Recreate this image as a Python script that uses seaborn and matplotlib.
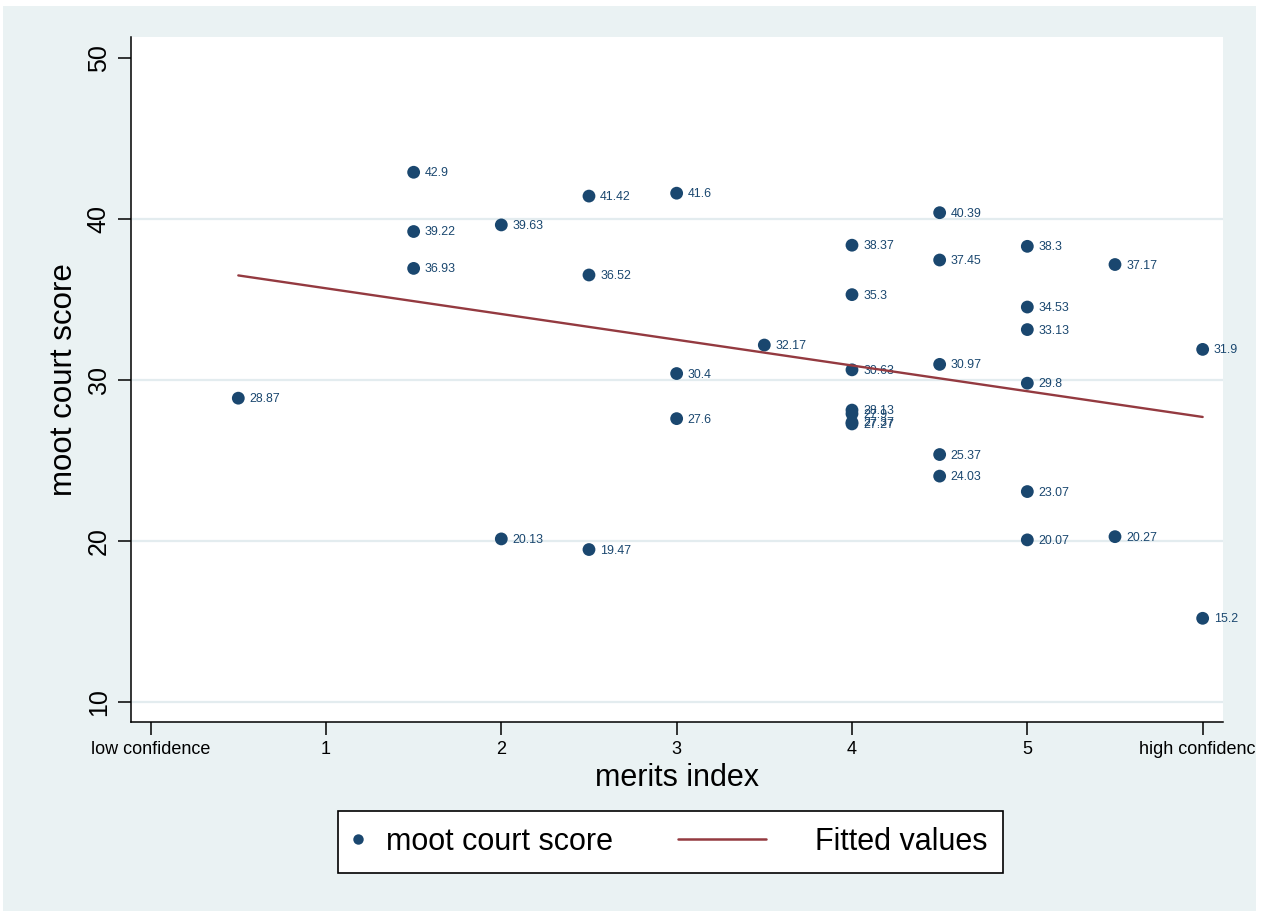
import numpy as np
import pandas as pd
import matplotlib
matplotlib.use("Agg")
import matplotlib.pyplot as plt
import seaborn as sns
from matplotlib.lines import Line2D
from matplotlib.patches import Rectangle
from matplotlib.legend_handler import HandlerLine2D

# ---- data ----
merits = [0.5, 1.5, 1.5, 1.5, 2, 2, 2.5, 2.5, 2.5, 3, 3, 3, 3.5,
          4, 4, 4, 4, 4, 4, 4, 4.5, 4.5, 4.5, 4.5, 4.5,
          5, 5, 5, 5, 5, 5, 5.5, 5.5, 6, 6]
scores = [28.87, 42.9, 39.22, 36.93, 39.63, 20.13, 41.42, 36.52, 19.47,
          41.6, 30.4, 27.6, 32.17,
          38.37, 35.3, 30.63, 28.13, 27.9, 27.37, 27.27,
          40.39, 37.45, 30.97, 25.37, 24.03,
          38.3, 34.53, 33.13, 29.8, 23.07, 20.07,
          37.17, 20.27, 31.9, 15.2]
x_ticks = [0, 1, 2, 3, 4, 5, 6]
x_tick_labels = ["low confidence", "1", "2", "3", "4", "5", "high confidence"]
y_ticks = [10, 20, 30, 40, 50]

NAVY = "#1a476f"
MAROON = "#943a40"
BG = "#eaf2f3"

sns.set_theme(style="white")
plt.rcParams["font.family"] = ["Liberation Sans", "DejaVu Sans"]
plt.rcParams["text.color"] = "black"

df = pd.DataFrame({"merits": merits, "score": scores})

W, H = 1269, 911
fig = plt.figure(figsize=(W / 100, H / 100), dpi=100)
fig.patch.set_facecolor("white")
# light outer background (graph region)
fig.add_artist(Rectangle((3 / W, 0), (1256 - 3) / W, 1 - 6 / H,
                         transform=fig.transFigure, facecolor=BG,
                         edgecolor="none", zorder=-10))

ax = fig.add_axes([131 / W, 1 - 722 / H, (1223 - 131) / W, (722 - 37) / H])
ax.set_facecolor("white")

sns.scatterplot(data=df, x="merits", y="score", s=85, color=NAVY,
                edgecolor="none", linewidth=0, legend=False, ax=ax, zorder=2)
sns.regplot(data=df, x="merits", y="score", scatter=False, ci=None,
            truncate=True, ax=ax,
            line_kws=dict(color=MAROON, lw=1.7, zorder=4))

for xv, yv in zip(merits, scores):
    ax.annotate(f"{yv:g}", (xv, yv), xytext=(8, -0.7), textcoords="offset points",
                va="center", ha="left", fontsize=8.9, color=NAVY,
                annotation_clip=False, zorder=3)

ax.set_xlim(-0.112, 6.116)
ax.set_ylim(8.76, 51.3)
ax.set_xticks(x_ticks)
ax.set_xticklabels(x_tick_labels)
ax.set_yticks(y_ticks)
ax.set_yticklabels([str(v) for v in y_ticks], rotation=90, va="center")

ax.tick_params(axis="x", which="major", bottom=True, length=9.5, width=1.1,
               color="black", labelsize=13, pad=4, labelcolor="black")
ax.tick_params(axis="y", which="major", left=True, length=9.5, width=1.1,
               color="black", labelsize=18, pad=5, labelcolor="black")

ax.yaxis.grid(True, color="#e3ecef", lw=1.6)
ax.xaxis.grid(False)
ax.set_axisbelow(True)
ax.yaxis.get_gridlines()[-1].set_visible(False)

for side in ["top", "right"]:
    ax.spines[side].set_visible(False)
for side in ["left", "bottom"]:
    ax.spines[side].set_color("black")
    ax.spines[side].set_linewidth(1.1)

ax.set_xlabel("merits index", fontsize=22, labelpad=4, color="black")
ax.set_ylabel("moot court score", fontsize=22.5, labelpad=6, color="black")


class ShiftedLine(HandlerLine2D):
    def __init__(self, start, end, **kw):
        super().__init__(**kw)
        self.start, self.end = start, end

    def get_xdata(self, legend, xdescent, ydescent, width, height, fontsize):
        xd = np.array([-xdescent + width + self.start, -xdescent + width + self.end])
        return xd, xd


h_pts = Line2D([], [], marker="o", ls="", color=NAVY, markersize=7.5,
               markeredgewidth=0)
h_fit = Line2D([], [], color=MAROON, lw=1.8)
leg = fig.legend(handles=[h_pts, h_fit], labels=["moot court score", "Fitted values"],
                 loc="center left", bbox_to_anchor=(338 / W, 1 - 842 / H), ncol=2,
                 fontsize=22, frameon=True, fancybox=False, edgecolor="black",
                 framealpha=1, facecolor="white", borderpad=0.52,
                 handlelength=0.3, handletextpad=0.75, columnspacing=5.56,
                 borderaxespad=0, labelcolor="black",
                 handler_map={h_fit: ShiftedLine(-82.0, -18.7),
                              h_pts: HandlerLine2D(numpoints=1)})
leg.get_frame().set_linewidth(1.2)

# white strip at right edge of the screenshot
fig.add_artist(Rectangle((1256 / W, 0), (W - 1256) / W, 1,
                         transform=fig.transFigure, facecolor="white",
                         edgecolor="none", zorder=20))

fig.savefig("out.png", dpi=100)
